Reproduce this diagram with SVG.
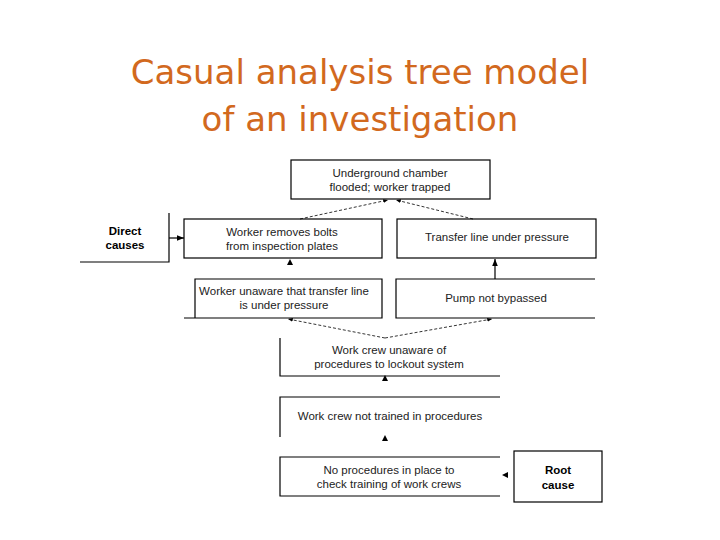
<svg xmlns="http://www.w3.org/2000/svg" width="720" height="540" viewBox="0 0 720 540">
<defs>
<marker id="ah" viewBox="0 0 10 10" refX="10" refY="5" markerWidth="6" markerHeight="6" orient="auto"><path d="M0,1 L10,5 L0,9 z" fill="#000"/></marker>
</defs>
<style>
.t{font-family:"Liberation Sans",Arial,sans-serif;font-size:11.5px;fill:#222;text-anchor:middle}
.b{font-weight:bold;fill:#000}
.ln{stroke:#000;stroke-width:1.2;fill:none}
.d{stroke:#000;stroke-width:0.8;stroke-dasharray:3,2;fill:none}
.ttl{font-family:"DejaVu Sans",Verdana,sans-serif;font-size:34px;fill:#d2691e;text-anchor:middle}
</style>
<rect width="720" height="540" fill="#fff"/>
<text class="ttl" x="360" y="84">Casual analysis tree model</text>
<text class="ttl" x="360" y="131">of an investigation</text>
<g id="n-top"><rect class="ln" x="291" y="160" width="199" height="39"/><text class="t" x="390" y="177">Underground chamber</text><text class="t" x="390" y="191">flooded; worker trapped</text></g>
<g id="n-direct"><path class="ln" d="M169,213 V262 H80"/><text class="t b" x="125" y="235">Direct</text><text class="t b" x="125" y="249">causes</text></g>
<g id="n-bolts"><rect class="ln" x="184" y="219" width="198" height="39"/><text class="t" x="282" y="236">Worker removes bolts</text><text class="t" x="282" y="250">from inspection plates</text></g>
<g id="n-transfer"><rect class="ln" x="397" y="219" width="199" height="39"/><text class="t" x="497" y="241">Transfer line under pressure</text></g>
<g id="n-unaware"><path class="ln" d="M195,318 V279 H382 V318 H184"/><text class="t" x="284" y="295">Worker unaware that transfer line</text><text class="t" x="284" y="309">is under pressure</text></g>
<g id="n-pump"><path class="ln" d="M595,279 H396 V318 H595"/><text class="t" x="496" y="302">Pump not bypassed</text></g>
<g id="n-crew"><path class="ln" d="M280,338 V376 H500"/><text class="t" x="389" y="354">Work crew unaware of</text><text class="t" x="389" y="368">procedures to lockout system</text></g>
<g id="n-trained"><path class="ln" d="M500,397 H280 V437"/><text class="t" x="390" y="420">Work crew not trained in procedures</text></g>
<g id="n-noproc"><path class="ln" d="M500,457 H280 V496 H500"/><text class="t" x="389" y="474">No procedures in place to</text><text class="t" x="389" y="488">check training of work crews</text></g>
<g id="n-root"><rect class="ln" x="514" y="451" width="88" height="51"/><text class="t b" x="558" y="474">Root</text><text class="t b" x="558" y="489">cause</text></g>
<g id="connectors">
<path class="d" d="M300,219 L388,200" marker-end="url(#ah)"/>
<path class="d" d="M473,219 L396,200" marker-end="url(#ah)"/>
<path class="d" d="M385,338 L288,319" marker-end="url(#ah)"/>
<path class="d" d="M385,338 L492,319" marker-end="url(#ah)"/>
<path class="ln" d="M495,279 V259" marker-end="url(#ah)"/>
<path class="ln" d="M169,238 H184" marker-end="url(#ah)"/>
<path d="M287,265 L290,259 L293,265 z"/>
<path d="M382,381 L385,375 L388,381 z"/>
<path d="M382,441 L385,435 L388,441 z"/>
<path d="M508,472 L502,475 L508,478 z"/>
</g>
</svg>
